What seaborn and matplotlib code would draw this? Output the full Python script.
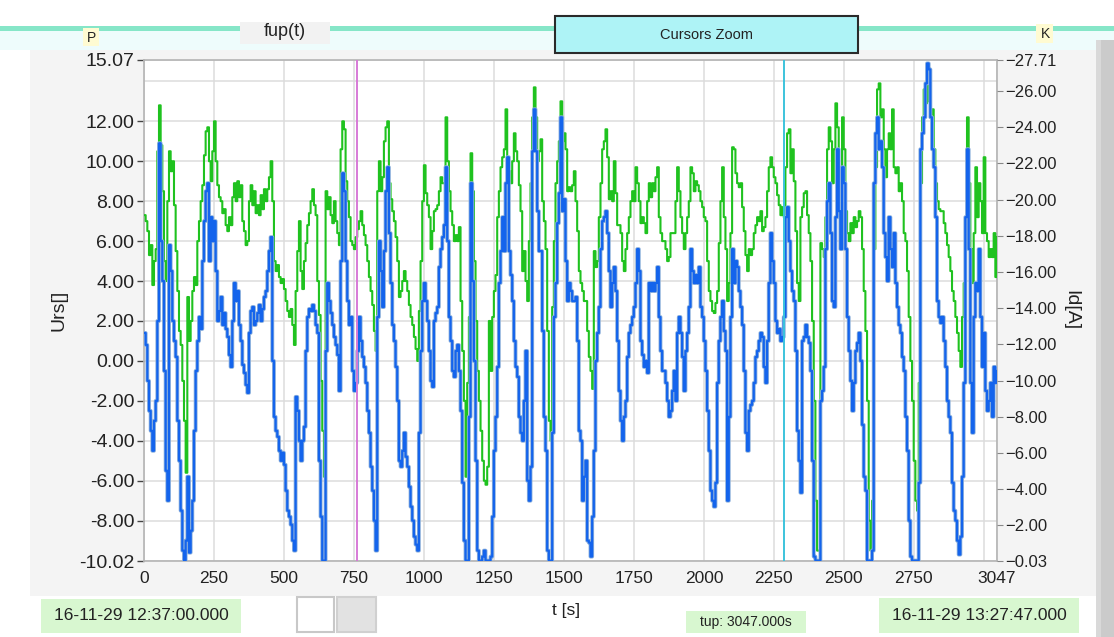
import numpy as np
import matplotlib
matplotlib.use("Agg")
import matplotlib.pyplot as plt
from matplotlib.patches import Rectangle
import seaborn as sns

urs_green = [
    7.3, 7.0, 6.5, 5.3, 5.8, 3.8, 5.0, 5.6, 10.5, 12.8, 10.8, 8.5, 5.0, 4.0, 8.0, 10.5, 9.5, 10.0, 7.8, 5.5,
    3.5, 1.5, 0.8, -1.0, -3.0, -5.6, 3.2, 1.0, 2.0, 3.5, 4.2, 3.8, 6.0, 7.0, 8.0, 8.8, 10.3, 11.5, 11.7, 10.0,
    9.0, 10.5, 12.0, 10.0, 8.8, 8.2, 8.0, 7.4, 7.6, 6.8, 6.5, 7.2, 6.8, 8.2, 8.9, 8.0, 9.0, 8.2, 8.8, 7.0,
    6.5, 5.8, 6.0, 8.0, 8.8, 7.8, 8.5, 7.4, 7.8, 7.3, 8.3, 7.6, 8.6, 8.0, 8.6, 9.2, 10.0, 8.0, 5.0, 4.5,
    4.8, 4.2, 3.9, 4.1, 3.6, 3.0, 2.5, 2.2, 2.6, 1.8, 0.8, 3.5, 5.5, 7.0, 4.5, 3.6, 5.0, 5.9, 6.8, 7.4,
    8.0, 8.6, 7.8, 7.3, 4.0, 2.3, -1.0, -3.5, -5.8, 8.5, 7.6, 8.2, 7.3, 6.9, 8.0, 7.0, 6.4, 5.8, 10.6, 12.0,
    11.6, 9.0, 8.0, 7.2,
    # 736 s ..
    6.0, 5.8, 5.6, 6.2, 6.6, 7.0, 7.5, 6.8, 6.3, 5.8, 5.0, 4.2, 3.5, 2.8, 1.5, 0.5, 8.5, 10.0, 8.5, 9.2,
    11.0, 11.7, 12.0, 8.9, 8.1, 7.5, 7.0, 6.2, 5.0, 3.2, 3.5, 4.0, 4.5, 4.0, 3.5, 2.8, 2.2, 1.8, 1.2, 0.6,
    0.0, 2.5, 5.0, 8.0, 9.8, 8.4, 7.8, 7.2, 5.6, 6.5, 7.5, 7.6, 7.8, 8.5, 9.2, 8.9, 8.9, 12.2, 10.0, 8.5,
    7.5, 6.8, 6.0, 6.3, 6.0, 6.7, 3.0, 0.5, -2.0, -5.8, -1.1, 2.2, 10.4, 8.5, 5.0, 2.0, -0.5, -2.0, -3.5, -5.0,
    -6.0, -6.2, -5.3, 2.0, -0.5, 2.2, 3.5, 4.3, 7.2, 8.5, 9.7, 10.2, 10.6, 12.6, 9.7, 9.5, 8.9, 10.0, 11.4, 10.5,
    10.0, 8.8, 7.5, 4.5, 5.5, 4.0, 3.0, 6.0, 8.9, 12.2, 13.7, 12.2, 10.0, 10.5, 11.1, 8.0, 7.0, 5.6, 1.5, -3.0,
    -4.0, 2.7, 6.0, 8.9, 10.0, 11.0,
    # 1486 s ..
    13.0, 11.0, 11.4, 10.6, 8.5, 8.7, 8.5, 8.8, 9.5, 8.0, 6.5, 4.5, 3.9, 3.5, 3.0, 3.0, 1.5, 0.2, -0.5, -1.4,
    5.5, 4.7, 5.0, 7.2, 8.9, 10.6, 11.0, 11.6, 10.2, 8.1, 8.5, 8.0, 10.0, 8.4, 6.8, 6.8, 6.4, 5.0, 4.5, 5.6,
    6.4, 7.2, 8.0, 8.5, 8.0, 9.7, 8.9, 8.0, 6.9, 7.2, 6.9, 6.4, 8.0, 8.9, 8.2, 8.9, 8.5, 9.2, 9.7, 7.2,
    6.4, 6.0, 6.0, 5.6, 5.0, 5.2, 6.4, 6.4, 6.4, 8.0, 9.7, 8.5, 7.2, 6.4, 5.6, 6.4, 7.2, 8.0, 9.7, 9.4,
    8.5, 9.0, 8.8, 8.5, 8.0, 7.7, 7.2, 7.0, 5.0, 3.5, 3.0, 2.5, 2.4, 2.9, 3.5, 5.9, 8.0, 9.7, 7.2, 5.6,
    3.0, 3.9, 6.4, 10.7, 10.6, 9.4, 8.9, 8.7, 8.9, 7.7, 6.5, 5.3, 4.5, 5.6, 5.3, 5.6, 6.4, 6.8, 7.2, 7.0,
    7.5, 6.5, 6.7, 7.2, 8.5, 9.7,
    # 2236 s ..
    10.2, 9.7, 9.2, 8.9, 8.3, 7.8, 7.3, 7.7, 7.2, 9.7, 11.4, 11.6, 9.4, 10.6, 9.0, 6.5, 3.9, 3.0, 7.2, 7.7,
    8.4, 8.5, 7.3, 6.4, 5.0, 2.0, -2.0, -7.0, -9.5, -9.5, 5.9, 5.6, 5.2, 7.2, 10.6, 11.7, 11.0, 8.9, 10.6, 12.9,
    11.7, 8.0, 9.7, 12.2, 10.6, 7.5, 6.4, 6.0, 6.9, 6.4, 7.2, 6.7, 7.0, 7.5, 7.2, 5.6, 3.5, 1.5, -2.0, -8.0,
    -9.5, -7.0, 5.6, 9.7, 13.6, 13.9, 12.2, 12.6, 10.6, 9.2, 10.6, 11.4, 10.6, 12.6, 9.7, 9.4, 9.7, 8.5, 8.9, 8.0,
    6.4, 6.0, 4.5, 2.2, 0.0, -2.0, -5.0, -7.0, -7.5, -1.1, 8.9, 12.2, 13.6, 12.9, 14.7, 13.0, 12.2, 12.6, 10.6, 8.9,
    8.0, 7.6, 7.5, 7.5, 6.9, 6.4, 5.8, 5.2, 4.5, 3.5, 3.0, 2.2, 1.4, 0.5, -0.3, 2.2, 3.9, 7.2, 12.2, 8.9,
    5.6, 3.9, 6.4, 9.7, 7.2, 8.9, 8.0, 6.4, 10.2, 6.4, 6.0, 5.2, 5.6, 5.2, 6.4, 4.2, 6.2,
]

urs_blue = [
    1.4, 0.8, -1.0, -2.5, -3.5, -4.5, -3.0, -2.0, 2.0, 10.9, 6.0, 4.0, -0.5, -5.5, -7.0, 5.8, 4.5, 2.0, 1.0, 0.2,
    -3.0, -5.0, -7.5, -9.5, -10.0, -9.0, -5.8, -9.6, -8.5, -7.0, -3.5, -0.5, 1.0, 2.2, 1.6, 5.0, 7.0, 8.5, 8.9, 5.0,
    7.2, 6.0, 7.0, 4.5, 2.0, 2.5, 3.2, 1.8, 2.4, 1.6, 1.2, 0.3, -0.3, 2.0, 3.9, 3.0, 3.5, 1.8, 1.0, -0.2,
    -0.6, -1.2, -1.6, 1.4, 2.5, 2.7, 1.8, 2.0, 2.4, 2.8, 2.0, 2.6, 3.2, 3.5, 4.5, 5.5, 6.2, 0.0, -2.8, -3.5,
    -3.8, -4.5, -5.0, -4.6, -5.2, -6.5, -7.5, -7.8, -8.2, -9.0, -9.5, -1.8, -2.5, -4.0, -5.0, -4.0, -3.3, 0.5, 2.2, 2.6,
    2.5, 2.8, 2.5, 1.8, 1.4, -5.0, -7.8, -10.0, -10.0, 0.5, 3.9, 3.0, 2.4, 1.8, 1.2, 0.8, 0.3, -1.5, 5.0, 9.4,
    8.5, 5.0, 3.0, 1.8,
    # 736 s ..
    2.2, -0.5, -1.5, -1.1, 0.5, 2.2, 1.0, 0.2, -0.3, -1.1, -2.5, -3.6, -5.3, -6.5, -8.0, -9.5, 2.2, 6.0, 4.5, 2.7,
    5.5, 8.5, 9.7, 6.4, 3.9, 1.8, 1.0, -0.3, -2.0, -5.0, -5.3, -4.5, -3.6, -4.8, -5.3, -6.3, -7.3, -8.0, -8.8, -9.2,
    -9.5, -3.6, 0.5, 3.0, 3.9, 3.0, 2.0, 0.5, -1.0, -1.3, 2.0, 2.4, 2.7, 4.7, 5.6, 6.2, 6.8, 9.7, 6.0, 2.2,
    1.0, -0.5, -0.8, 0.5, 0.8, -0.5, -2.5, -6.1, -9.0, -10.0, -10.0, -2.8, 8.9, 4.0, 0.0, -5.0, -9.5, -10.0, -10.0, -9.8,
    -9.5, -10.0, -10.0, -10.0, -9.8, -7.8, -4.5, -2.8, -0.3, 3.9, 5.5, 7.2, 5.5, 8.9, 10.2, 5.5, 4.3, 3.0, 1.0, -0.3,
    -0.8, -2.8, -3.6, -4.0, -2.0, 0.5, -6.0, -7.0, -5.3, 10.5, 12.6, 10.5, 7.5, 5.5, 5.5, 1.5, -2.8, -4.5, -9.5, -10.0,
    -10.0, -3.6, 2.2, 3.9, 6.9, 8.4,
    # 1486 s ..
    12.2, 7.5, 8.1, 5.0, 3.0, 3.9, 3.5, 3.0, 3.0, 3.2, 1.0, -3.5, -4.0, -7.0, -5.8, -5.0, -9.0, -9.1, -9.8, -7.8,
    -4.5, 0.0, 1.4, 2.7, 5.6, 7.0, 7.2, 7.5, 6.4, 4.5, 2.7, 3.9, 4.7, 3.5, 1.0, -1.5, -3.0, -4.0, -2.8, -2.0,
    0.2, 1.4, 1.8, 2.2, 2.7, 3.9, 5.6, 4.5, 1.0, 0.3, -0.3, 0.0, -0.6, 3.9, 3.5, 3.9, 3.5, 3.9, 4.7, 2.2,
    0.5, -0.5, -0.5, -1.1, -2.0, -2.8, -2.5, -1.5, -0.5, -2.0, 1.4, 2.2, 1.4, 0.2, -1.5, 0.5, 1.4, 2.7, 5.6, 4.5,
    3.9, 4.3, 3.9, 4.7, 2.7, 2.2, 1.0, -0.5, -2.5, -4.5, -6.5, -7.0, -7.3, -6.1, -1.1, 1.0, 2.2, 3.0, 1.5, 0.5,
    -7.0, -2.8, 2.2, 5.6, 3.9, 5.0, 4.7, 3.5, 2.7, 1.8, -0.5, -3.6, -4.5, -2.5, -2.2, -2.0, -1.1, 0.2, 0.5, 1.0,
    1.4, 1.2, -0.3, -1.1, 1.0, 3.9,
    # 2236 s ..
    6.4, 5.0, 3.9, 2.0, 1.4, 1.6, 1.0, 1.2, 2.2, 7.2, 7.7, 6.0, 4.5, 3.5, 3.0, 0.5, -3.5, -5.0, -6.6, 1.0,
    1.2, 1.8, 1.2, 0.9, -0.5, -5.0, -9.8, -10.0, -10.0, -10.0, -2.0, -1.5, -0.3, 5.6, 8.0, 8.9, 6.4, 3.0, 2.7, 7.2,
    10.6, 7.5, 5.6, 9.7, 8.9, 5.6, 2.2, 0.5, -1.0, -2.5, -1.1, 0.5, 0.9, 1.4, 0.0, -3.2, -5.8, -6.5, -10.0, -10.0,
    -10.0, -9.5, 8.9, 11.4, 12.2, 10.6, 11.0, 9.7, 6.4, 5.2, 4.0, 7.2, 5.6, 4.7, 6.4, 3.9, 2.7, 1.8, 1.4, 0.2,
    -0.5, -2.8, -4.5, -8.0, -9.8, -10.0, -10.0, -10.0, -10.0, -6.1, 10.6, 11.4, 12.2, 13.9, 14.9, 14.6, 12.2, 10.6, 9.7, 7.2,
    3.0, 2.2, 1.9, 2.2, 1.0, -0.3, -2.0, -2.8, -3.6, -6.1, -7.5, -8.0, -9.0, -9.7, -8.8, -5.8, -1.1, 7.2, 10.6, 5.6,
    -1.1, -3.6, 2.2, 3.9, 3.5, 5.6, 2.2, -0.3, 1.4, -1.5, -2.5, -2.0, -1.1, -2.8, -0.3, -1.1, -0.5,
]

t_end = 3047
cursor_p = 761
cursor_k = 2285

left_ticks = [15.07, 12, 10, 8, 6, 4, 2, 0, -2, -4, -6, -8, -10.02]
left_labels = ["15.07", "12.00", "10.00", "8.00", "6.00", "4.00", "2.00", "0.00",
               "-2.00", "-4.00", "-6.00", "-8.00", "-10.02"]
right_ticks = [-27.71, -26, -24, -22, -20, -18, -16, -14, -12, -10, -8, -6, -4, -2, -0.03]
right_labels = ["\u221227.71"] + ["\u2212%.2f" % abs(v) for v in right_ticks[1:-1]] + ["\u22120.03"]
x_ticks = [0, 250, 500, 750, 1000, 1250, 1500, 1750, 2000, 2250, 2500, 2750, 3047]

W, H = 1114, 637

sns.set_style("white")
plt.rcParams['font.family'] = ['Liberation Sans', 'DejaVu Sans']

fig = plt.figure(figsize=(W / 100, H / 100), dpi=100)
fig.patch.set_facecolor("white")


def box(x0, y0, x1, y1, color, z=-10, **kw):
    # rectangle in screenshot pixel coordinates
    fig.patches.append(Rectangle((x0 / W, 1 - y1 / H), (x1 - x0) / W, (y1 - y0) / H,
                                 transform=fig.transFigure, facecolor=color, zorder=z, **kw))


def txt(x, y, s, **kw):
    fig.text(x / W, 1 - y / H, s, ha=kw.pop("ha", "center"), va=kw.pop("va", "center"), **kw)


# window decoration
box(0, 26, W, 31, "#86e6c8", edgecolor="none")
box(0, 31, W, 50, "#eefcfc", edgecolor="none")
box(30, 50, 1096, 596, "#f4f4f4", edgecolor="none")
box(1096, 40, W, H, "#d9d9d9", edgecolor="none")
box(1101, 40, W, H, "#cbcbcb", edgecolor="none")
box(240, 22, 330, 44, "#f2f2f2", edgecolor="none")
box(83, 28, 99, 46, "#fffbd2", edgecolor="none")
box(1036, 24, 1053, 43, "#fffbd2", edgecolor="none")
box(555, 16, 858, 53, "#aef3f6", edgecolor="#2a2a2a", linewidth=1.5)
txt(285, 32, "fup(t)", fontsize=13, color="#222222")
txt(91, 38, "P", fontsize=10, color="#222222")
txt(1045, 34, "K", fontsize=10, color="#222222")
txt(706, 35, "Cursors Zoom", fontsize=10.5, color="#222222")

# bottom status fields
box(41, 599, 241, 633, "#d8f7d0", edgecolor="none")
box(686, 611, 806, 633, "#d8f7d0", edgecolor="none")
box(879, 598, 1079, 633, "#d8f7d0", edgecolor="none")
box(297, 597, 334, 632, "white", edgecolor="#c8c8c8", linewidth=1.5)
box(337, 597, 376, 632, "#e2e2e2", edgecolor="#d0d0d0", linewidth=1.5)
txt(141, 616, "16-11-29 12:37:00.000", fontsize=12.5, color="#222222")
txt(979, 615, "16-11-29 13:27:47.000", fontsize=12.5, color="#222222")
txt(746, 622, "tup: 3047.000s", fontsize=10, color="#222222")
txt(566, 610, "t [s]", fontsize=12.5, color="#222222")

ax = fig.add_axes([144 / W, 1 - 561 / H, (997 - 144) / W, (561 - 60) / H])
ax.set_facecolor("white")

t_g = np.linspace(0, t_end, len(urs_green))
t_b = np.linspace(0, t_end, len(urs_blue))

sns.lineplot(x=t_g, y=urs_green, ax=ax, color="#1fc21f", linewidth=1.5,
             drawstyle="steps-post", estimator=None, zorder=3)
sns.lineplot(x=t_b, y=urs_blue, ax=ax, color="#8fb2dc", linewidth=2.8,
             drawstyle="steps-post", estimator=None, zorder=4)
sns.lineplot(x=t_b, y=urs_blue, ax=ax, color="#1464ec", linewidth=1.6,
             drawstyle="steps-post", estimator=None, zorder=5)

ax.axvline(cursor_p, color="#d77ad7", linewidth=1.4, zorder=6)
ax.axvline(cursor_k, color="#3cc3dc", linewidth=1.4, zorder=6)

ax.set_xlim(0, t_end)
ax.set_ylim(-10.02, 15.07)
ax.set_yticks(left_ticks)
ax.set_yticklabels(left_labels, fontsize=14, color="#222222")
ax.set_xticks(x_ticks)
ax.set_xticklabels([str(v) for v in x_ticks], fontsize=12.5, color="#222222")
ax.tick_params(axis="both", direction="out", length=5, width=1, color="#444444", pad=2)
ax.grid(True, color="#dcdcdc", linewidth=1.1, zorder=0)
ax.axhline(14, color="#dcdcdc", linewidth=1.1, zorder=0)
ax.axvline(3000, color="#dcdcdc", linewidth=1.1, zorder=0)
for sp in ax.spines.values():
    sp.set_color("#b4b4b4")
    sp.set_linewidth(1.2)
ax.set_ylabel("Urs[]", fontsize=14, color="#222222", labelpad=8)
ax.set_xlabel("")

ax2 = ax.twinx()
ax2.set_ylim(-0.03, -27.71)
ax2.set_yticks(right_ticks)
ax2.set_yticklabels(right_labels, fontsize=12, color="#222222")
ax2.tick_params(axis="y", direction="out", length=4, color="#888888", pad=2)
for sp in ax2.spines.values():
    sp.set_visible(False)
ax2.set_ylabel("Id[A]", fontsize=14, color="#222222", rotation=270, labelpad=16)

fig.savefig("out.png", dpi=100, facecolor=fig.get_facecolor())
